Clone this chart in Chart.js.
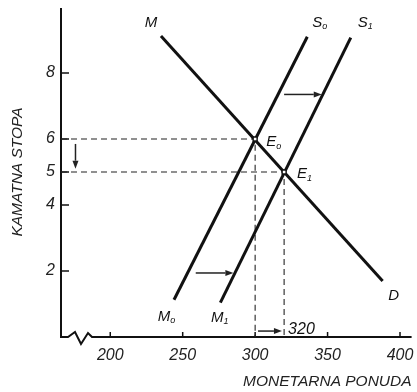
<!DOCTYPE html>
<html>
<head>
<meta charset="utf-8">
<script src="https://cdn.jsdelivr.net/npm/chart.js@4"></script>
<style>
  html, body { margin: 0; padding: 0; background: #fff; }
  #wrap { width: 417px; height: 392px; }
</style>
</head>
<body>
<div id="wrap"><canvas id="grafik"></canvas></div>
<script>
// podaci s grafika
const xTicks = [200, 250, 300, 350, 400];
const yTicks = [2, 4, 5, 6, 8];
const demandX = [235, 388];     // M ... D
const demandY = [9.12, 1.7];
const supply0X = [244, 336];    // M0 ... S0
const supply0Y = [1.13, 9.1];
const supply1X = [276, 366];    // M1 ... S1
const supply1Y = [1.04, 9.07];
const eqX = [300, 320];         // E0, E1
const eqY = [6, 5];
const arrowDownX = [176, 176];
const arrowDownY = [5.85, 5.1];
const arrowTopX = [320, 346];
const arrowTopY = [7.35, 7.35];
const arrowLowX = [259, 285];
const arrowLowY = [1.94, 1.94];
const arrowAxisX = [302, 318.5];
const arrowAxisY = [0.18, 0.18];

const FONT = '"Liberation Sans", Arial, sans-serif';

function pts(xs, ys) {
    return xs.map((x, i) => ({ x: x, y: ys[i] }));
}

const crta = { showLine: true, borderColor: '#111', borderWidth: 3, pointRadius: 0, fill: false };
const isprekidana = { showLine: true, borderColor: '#222', borderWidth: 1.1, borderDash: [6, 4], pointRadius: 0, fill: false };

// osi, oznake, strelice i natpisi
const crtez = {
    id: 'crtez',
    beforeDatasetsDraw(chart) {
        const { ctx, chartArea: a } = chart;
        ctx.save();
        ctx.strokeStyle = '#111';
        ctx.lineWidth = 2;
        ctx.beginPath();
        ctx.moveTo(a.left, a.top + 1);
        ctx.lineTo(a.left, a.bottom);
        ctx.lineTo(a.left + 7, a.bottom);
        ctx.lineTo(a.left + 14, a.bottom - 5);
        ctx.lineTo(a.left + 20, a.bottom + 7);
        ctx.lineTo(a.left + 27, a.bottom - 4);
        ctx.lineTo(a.left + 31, a.bottom);
        ctx.lineTo(a.right, a.bottom);
        ctx.stroke();

        const x = chart.scales.x, y = chart.scales.y;
        ctx.lineWidth = 1.5;
        ctx.beginPath();
        yTicks.forEach(v => {
            const p = y.getPixelForValue(v);
            ctx.moveTo(a.left, p);
            ctx.lineTo(a.left + 8, p);
        });
        xTicks.forEach(v => {
            const p = x.getPixelForValue(v);
            ctx.moveTo(p, a.bottom);
            ctx.lineTo(p, a.bottom - 5);
        });
        ctx.stroke();
        ctx.restore();
    },
    afterDatasetsDraw(chart) {
        const { ctx } = chart;
        const x = chart.scales.x, y = chart.scales.y;
        ctx.save();

        function strelica(xs, ys) {
            const x0 = x.getPixelForValue(xs[0]), y0 = y.getPixelForValue(ys[0]);
            const x1 = x.getPixelForValue(xs[1]), y1 = y.getPixelForValue(ys[1]);
            const ang = Math.atan2(y1 - y0, x1 - x0);
            const len = 8, w = 3;
            ctx.strokeStyle = '#222';
            ctx.fillStyle = '#222';
            ctx.lineWidth = 1.5;
            ctx.beginPath();
            ctx.moveTo(x0, y0);
            ctx.lineTo(x1 - Math.cos(ang) * len, y1 - Math.sin(ang) * len);
            ctx.stroke();
            ctx.beginPath();
            ctx.moveTo(x1, y1);
            ctx.lineTo(x1 - Math.cos(ang) * len - Math.sin(ang) * w, y1 - Math.sin(ang) * len + Math.cos(ang) * w);
            ctx.lineTo(x1 - Math.cos(ang) * len + Math.sin(ang) * w, y1 - Math.sin(ang) * len - Math.cos(ang) * w);
            ctx.closePath();
            ctx.fill();
        }
        strelica(arrowDownX, arrowDownY);
        strelica(arrowTopX, arrowTopY);
        strelica(arrowLowX, arrowLowY);
        strelica(arrowAxisX, arrowAxisY);

        function natpis(main, sub, vx, vy, dx, dy) {
            const px = x.getPixelForValue(vx) + dx;
            const py = y.getPixelForValue(vy) + dy;
            ctx.fillStyle = '#111';
            ctx.font = 'italic 15px ' + FONT;
            ctx.textAlign = 'center';
            ctx.textBaseline = 'middle';
            ctx.fillText(main, px, py);
            if (sub) {
                const w = ctx.measureText(main).width;
                ctx.font = 'italic 9px ' + FONT;
                ctx.textAlign = 'left';
                ctx.fillText(sub, px + w / 2, py + 4);
            }
        }
        natpis('M', '', demandX[0], demandY[0], -10, -13);
        natpis('D', '', demandX[1], demandY[1], 11, 15);
        natpis('S', 'o', supply0X[1], supply0Y[1], 10, -14);
        natpis('M', 'o', supply0X[0], supply0Y[0], -10, 17);
        natpis('S', '1', supply1X[1], supply1Y[1], 12, -15);
        natpis('M', '1', supply1X[0], supply1Y[0], -3, 15);
        natpis('E', 'o', eqX[0], eqY[0], 16, 3);
        natpis('E', '1', eqX[1], eqY[1], 18, 2);

        ctx.font = 'italic 16px ' + FONT;
        ctx.textAlign = 'left';
        ctx.textBaseline = 'middle';
        ctx.fillText(String(eqX[1]), x.getPixelForValue(eqX[1]) + 4, y.getPixelForValue(0) - 7);
        ctx.restore();
    }
};

const ctx = document.getElementById('grafik').getContext('2d');
new Chart(ctx, {
    type: 'scatter',
    data: {
        datasets: [
            {
                data: pts(eqX, eqY),
                pointStyle: 'rect',
                pointRadius: 2.8,
                pointBackgroundColor: '#fff',
                pointBorderColor: '#111',
                pointBorderWidth: 1.4,
                showLine: false
            },
            { ...crta, data: pts(demandX, demandY) },
            { ...crta, data: pts(supply0X, supply0Y) },
            { ...crta, data: pts(supply1X, supply1Y) },
            { ...isprekidana, data: [{ x: 166, y: eqY[0] }, { x: eqX[0], y: eqY[0] }, { x: eqX[0], y: 0 }] },
            { ...isprekidana, data: [{ x: 166, y: eqY[1] }, { x: eqX[1], y: eqY[1] }, { x: eqX[1], y: 0 }] }
        ]
    },
    options: {
        responsive: true,
        maintainAspectRatio: false,
        animation: false,
        layout: { padding: { top: 7, right: 0, left: 0, bottom: 0 } },
        plugins: { legend: { display: false }, tooltip: { enabled: false } },
        scales: {
            x: {
                type: 'linear',
                min: 166,
                max: 408,
                grid: { display: false, drawTicks: false },
                border: { display: false },
                afterBuildTicks: s => { s.ticks = xTicks.map(v => ({ value: v })); },
                afterFit: s => {
                    s.height = 55;
                    s.paddingLeft = 0; s.paddingRight = 0;
                    s.paddingTop = 0; s.paddingBottom = 0;
                },
                ticks: {
                    padding: 9,
                    color: '#222',
                    font: { family: FONT, size: 16, style: 'italic' }
                },
                title: {
                    display: true,
                    text: 'MONETARNA PONUDA',
                    align: 'end',
                    color: '#222',
                    padding: { top: 0, bottom: 1 },
                    font: { family: FONT, size: 15.5, style: 'italic' }
                }
            },
            y: {
                type: 'linear',
                min: 0,
                max: 10,
                grid: { display: false, drawTicks: false },
                border: { display: false },
                afterBuildTicks: s => { s.ticks = yTicks.map(v => ({ value: v })); },
                afterFit: s => {
                    s.width = 61;
                    s.paddingLeft = 0; s.paddingRight = 0;
                    s.paddingTop = 0; s.paddingBottom = 0;
                },
                ticks: {
                    padding: 6,
                    color: '#222',
                    font: { family: FONT, size: 16, style: 'italic' }
                },
                title: {
                    display: true,
                    text: 'KAMATNA STOPA',
                    color: '#222',
                    padding: { top: 8, bottom: 0 },
                    font: { family: FONT, size: 15.5, style: 'italic' }
                }
            }
        }
    },
    plugins: [crtez]
});
</script>
</body>
</html>
